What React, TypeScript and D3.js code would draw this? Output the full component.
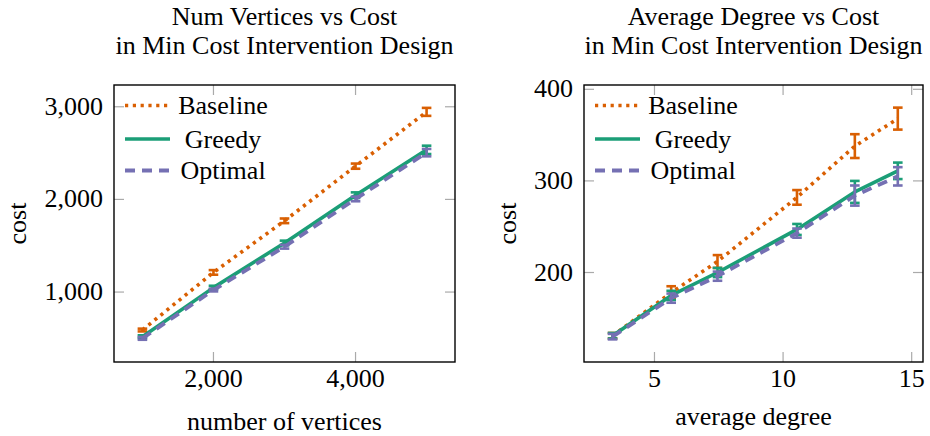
import React from "react";
import * as d3 from "d3";

// ---- data ----
const verticesX = [1000, 2000, 3000, 4000, 5000];
const vBaseline = [590, 1212, 1769, 2359, 2945];
const vBaselineErr = [15, 25, 25, 28, 43];
const vGreedy = [518, 1048, 1530, 2046, 2535];
const vGreedyErr = [15, 20, 25, 30, 45];
const vOptimal = [500, 1022, 1489, 2005, 2505];
const vOptimalErr = [15, 15, 20, 25, 40];

const degreeX = [3.37, 5.65, 7.45, 10.54, 12.79, 14.46];
const dBaseline = [131, 178, 212, 282, 338, 368];
const dBaselineErr = [3, 7, 7, 8, 13, 12];
const dGreedy = [131, 175, 200, 247, 288, 311];
const dGreedyErr = [3, 5, 5, 6, 12, 9];
const dOptimal = [130, 172, 196, 243, 284, 305];
const dOptimalErr = [3, 5, 5, 5, 11, 10];

const leftXTicks = [2000, 4000];
const leftYTicks = [1000, 2000, 3000];
const rightXTicks = [5, 10, 15];
const rightYTicks = [200, 300, 400];

const seriesNames = ["Baseline", "Greedy", "Optimal"];

const COLORS = ["#d95f02", "#1b9e77", "#7570b3"];
const FONT = "'Liberation Serif', 'Times New Roman', serif";

const styles = [
  { stroke: COLORS[0], width: 3.6, dash: "3.2 4.6", cap: "butt" },
  { stroke: COLORS[1], width: 3.6, dash: null, cap: "butt" },
  { stroke: COLORS[2], width: 3.8, dash: "10 7", cap: "butt" },
];

type PanelProps = {
  x0: number; x1: number; y0: number; y1: number;
  xDomain: [number, number]; yDomain: [number, number];
  xs: number[]; ys: number[][]; errs: number[][];
  xTicks: number[]; yTicks: number[];
  tickFmt: (v: number) => string;
  title: string[]; xLabel: string; xLabelY: number; yLabelX: number;
  legendTextX: number;
};

function Panel(p: PanelProps) {
  const x = d3.scaleLinear().domain(p.xDomain).range([p.x0, p.x1]);
  const y = d3.scaleLinear().domain(p.yDomain).range([p.y1, p.y0]);
  const line = d3.line<[number, number]>().x((d) => x(d[0])).y((d) => y(d[1]));
  const cx = (p.x0 + p.x1) / 2;
  const cy = (p.y0 + p.y1) / 2;
  const tickLen = 10;
  const tickColor = "#aaaaaa";
  const legendY = [105.5, 139, 170.5];
  return (
    <g>
      {p.title.map((t, i) => (
        <text key={i} x={cx} y={25 + i * 29} textAnchor="middle" fontFamily={FONT} fontSize={26} fill="#000">{t}</text>
      ))}
      {/* ticks */}
      {p.xTicks.map((t) => (
        <g key={"xt" + t}>
          <line x1={x(t)} x2={x(t)} y1={p.y1} y2={p.y1 - tickLen} stroke={tickColor} strokeWidth={1.2} />
          <line x1={x(t)} x2={x(t)} y1={p.y0} y2={p.y0 + tickLen} stroke={tickColor} strokeWidth={1.2} />
          <text x={x(t)} y={p.y1 + 25} textAnchor="middle" fontFamily={FONT} fontSize={26}>{p.tickFmt(t)}</text>
        </g>
      ))}
      {p.yTicks.map((t) => (
        <g key={"yt" + t}>
          <line x1={p.x0} x2={p.x0 + tickLen} y1={y(t)} y2={y(t)} stroke={tickColor} strokeWidth={1.2} />
          <line x1={p.x1} x2={p.x1 - tickLen} y1={y(t)} y2={y(t)} stroke={tickColor} strokeWidth={1.2} />
          <text x={p.x0 - 11} y={y(t) + 8} textAnchor="end" fontFamily={FONT} fontSize={26}>{p.tickFmt(t)}</text>
        </g>
      ))}
      {/* series */}
      {p.ys.map((vals, si) => {
        const st = styles[si];
        const pts = p.xs.map((xv, i) => [xv, vals[i]] as [number, number]);
        return (
          <g key={"s" + si}>
            <path d={line(pts) || ""} fill="none" stroke={st.stroke} strokeWidth={st.width}
              strokeDasharray={st.dash || undefined} strokeLinecap={st.cap as any} strokeLinejoin="round" />
            {pts.map((pt, i) => {
              const e = p.errs[si][i];
              const px = x(pt[0]);
              const yt = y(pt[1] + e);
              const yb = y(pt[1] - e);
              return (
                <g key={i} stroke={st.stroke} strokeWidth={2.6}>
                  <line x1={px} x2={px} y1={yt} y2={yb} />
                  <line x1={px - 4.8} x2={px + 4.8} y1={yt} y2={yt} />
                  <line x1={px - 4.8} x2={px + 4.8} y1={yb} y2={yb} />
                </g>
              );
            })}
          </g>
        );
      })}
      {/* axis box */}
      <rect x={p.x0} y={p.y0} width={p.x1 - p.x0} height={p.y1 - p.y0} fill="none" stroke="#000" strokeWidth={1.4} />
      {/* legend */}
      {seriesNames.map((n, i) => {
        const st = styles[i];
        return (
          <g key={"lg" + n}>
            <line x1={p.x0 + 11} x2={p.x0 + 56} y1={legendY[i]} y2={legendY[i]} stroke={st.stroke}
              strokeWidth={st.width} strokeDasharray={st.dash || undefined} />
            <text x={p.legendTextX} y={legendY[i] + 8.5} textAnchor="middle" fontFamily={FONT} fontSize={26}>{n}</text>
          </g>
        );
      })}
      {/* labels */}
      <text x={cx} y={p.xLabelY} textAnchor="middle" fontFamily={FONT} fontSize={26}>{p.xLabel}</text>
      <text transform={`translate(${p.yLabelX},${cy}) rotate(-90)`} textAnchor="middle" fontFamily={FONT} fontSize={26}>cost</text>
    </g>
  );
}

export default function App() {
  const fmtComma = d3.format(",");
  const fmtPlain = d3.format("d");
  return (
    <svg width={930} height={436} style={{ position: "absolute", left: 0, top: 0, background: "#fff" }}>
      <rect x={0} y={0} width={930} height={436} fill="#fff" />
      <Panel
        x0={114} x1={455} y0={85} y1={362}
        xDomain={[600, 5400]} yDomain={[245, 3235]}
        xs={verticesX} ys={[vBaseline, vGreedy, vOptimal]} errs={[vBaselineErr, vGreedyErr, vOptimalErr]}
        xTicks={leftXTicks} yTicks={leftYTicks} tickFmt={fmtComma}
        title={["Num Vertices vs Cost", "in Min Cost Intervention Design"]}
        xLabel="number of vertices" xLabelY={430} yLabelX={26}
        legendTextX={223}
      />
      <Panel
        x0={584} x1={923} y0={85} y1={362}
        xDomain={[2.26, 15.44]} yDomain={[102.3, 404.7]}
        xs={degreeX} ys={[dBaseline, dGreedy, dOptimal]} errs={[dBaselineErr, dGreedyErr, dOptimalErr]}
        xTicks={rightXTicks} yTicks={rightYTicks} tickFmt={fmtPlain}
        title={["Average Degree vs Cost", "in Min Cost Intervention Design"]}
        xLabel="average degree" xLabelY={425} yLabelX={516}
        legendTextX={693}
      />
    </svg>
  );
}
